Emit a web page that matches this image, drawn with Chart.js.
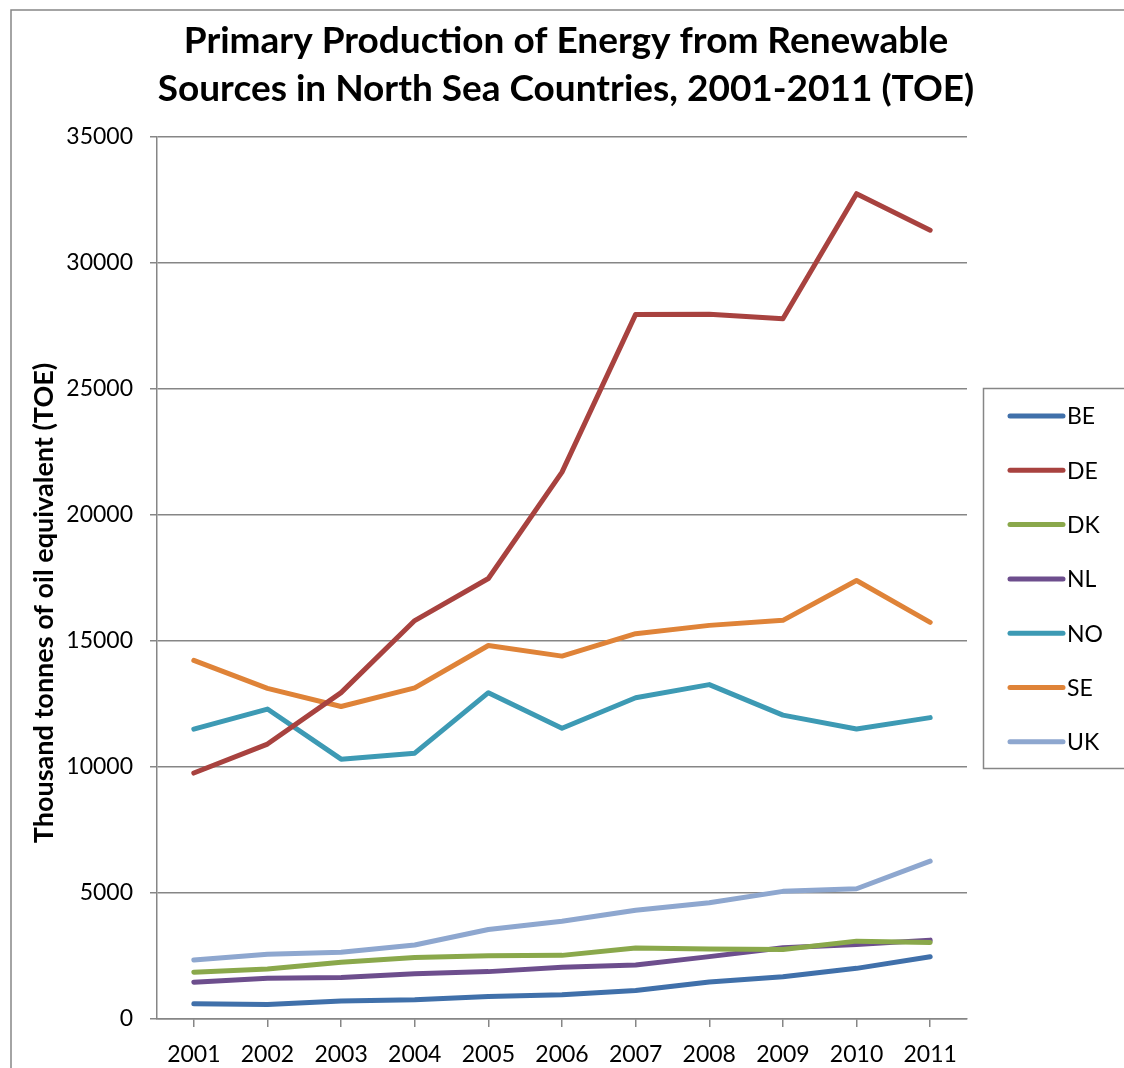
<!DOCTYPE html>
<html>
<head>
<meta charset="utf-8">
<title>Renewable energy, North Sea countries</title>
<script src="https://cdn.jsdelivr.net/npm/chart.js@4/dist/chart.umd.min.js"></script>
<style>
  html, body { margin: 0; padding: 0; background: #fff; }
  #chart { display: block; }
</style>
</head>
<body>
<canvas id="chart" width="1124" height="1068"></canvas>
<script>
// years on the category axis
const years = ['2001', '2002', '2003', '2004', '2005', '2006', '2007', '2008', '2009', '2010', '2011'];

// thousand TOE per country
const beValues = [605, 580, 710, 765, 895, 960, 1130, 1470, 1680, 2010, 2470];
const deValues = [9760, 10910, 12950, 15810, 17480, 21700, 27960, 27970, 27790, 32750, 31300];
const dkValues = [1855, 1985, 2250, 2445, 2510, 2525, 2815, 2775, 2760, 3090, 3040];
const nlValues = [1460, 1615, 1645, 1800, 1880, 2050, 2145, 2475, 2830, 2960, 3130];
const noValues = [11500, 12300, 10310, 10550, 12950, 11540, 12750, 13270, 12060, 11510, 11960];
const seValues = [14230, 13120, 12400, 13140, 14820, 14400, 15290, 15620, 15820, 17400, 15740];
const ukValues = [2340, 2565, 2645, 2935, 3550, 3880, 4315, 4615, 5065, 5170, 6265];

const countries = ['BE', 'DE', 'DK', 'NL', 'NO', 'SE', 'UK'];
const seriesColors = ['#4070AA', '#A8423F', '#8AA84B', '#6D4E8D', '#3D9AB4', '#DF8338', '#8EA7CF'];
const allValues = [beValues, deValues, dkValues, nlValues, noValues, seValues, ukValues];

// y axis range and steps
const yMin = 0;
const yMax = 35000;
const yStep = 5000;

const chartTitle = ['Primary Production of Energy from Renewable', 'Sources in North Sea Countries, 2001-2011 (TOE)'];
const yTitle = 'Thousand tonnes of oil equivalent (TOE)';

const FONT = 'Lato, "Open Sans", "Noto Sans", sans-serif';
const AXIS_GREY = '#868686';

const datasets = countries.map((name, i) => ({
    label: name,
    data: allValues[i],
    borderColor: seriesColors[i],
    backgroundColor: seriesColors[i],
    borderWidth: 5,
    borderCapStyle: 'round',
    borderJoinStyle: 'round',
    pointRadius: 0,
    pointHoverRadius: 0,
    tension: 0,
    fill: false
}));

// frame, title, rotated axis title and boxed legend
const decorations = {
    id: 'decorations',
    afterDraw(chart) {
        const ctx = chart.ctx;
        ctx.save();

        // outer frame (only top and left edges are inside the canvas)
        ctx.strokeStyle = AXIS_GREY;
        ctx.lineWidth = 1.5;
        ctx.beginPath();
        ctx.moveTo(11, 1068);
        ctx.lineTo(11, 10);
        ctx.lineTo(1124, 10);
        ctx.stroke();

        // title
        ctx.fillStyle = '#000';
        ctx.textAlign = 'center';
        ctx.textBaseline = 'middle';
        ctx.font = 'bold 37px ' + FONT;
        ctx.fillText(chartTitle[0], 566, 41);
        ctx.fillText(chartTitle[1], 566, 89);

        // y axis title
        ctx.save();
        ctx.translate(44, 603);
        ctx.rotate(-Math.PI / 2);
        ctx.font = 'bold 27px ' + FONT;
        ctx.fillText(yTitle, 0, 0);
        ctx.restore();

        // legend
        ctx.strokeStyle = AXIS_GREY;
        ctx.lineWidth = 1.5;
        ctx.strokeRect(983.5, 388.5, 300, 380);
        ctx.font = '23px ' + FONT;
        ctx.textAlign = 'left';
        chart.data.datasets.forEach((ds, i) => {
            const y = 416 + i * 54.3;
            ctx.strokeStyle = ds.borderColor;
            ctx.lineWidth = 5;
            ctx.lineCap = 'round';
            ctx.beginPath();
            ctx.moveTo(1010, y);
            ctx.lineTo(1063, y);
            ctx.stroke();
            ctx.fillStyle = '#000';
            ctx.fillText(ds.label, 1067, y + 1);
        });

        ctx.restore();
    }
};

new Chart(document.getElementById('chart'), {
    type: 'line',
    data: { labels: years, datasets: datasets },
    options: {
        responsive: false,
        animation: false,
        devicePixelRatio: 1,
        layout: { padding: { left: 11, right: 157, top: 137, bottom: 0 } },
        plugins: {
            legend: { display: false },
            title: { display: false },
            tooltip: { enabled: false }
        },
        scales: {
            x: {
                offset: true,
                afterFit(scale) { scale.height = 49; },
                grid: {
                    drawOnChartArea: false,
                    drawTicks: true,
                    tickLength: 8,
                    color: AXIS_GREY,
                    lineWidth: 1.5
                },
                border: { color: AXIS_GREY, width: 1.5 },
                ticks: {
                    color: '#000',
                    font: { family: FONT, size: 23 },
                    padding: 14,
                    maxRotation: 0,
                    autoSkip: false
                }
            },
            y: {
                min: yMin,
                max: yMax,
                afterFit(scale) { scale.width = 146; },
                grid: {
                    color: AXIS_GREY,
                    lineWidth: 1.5,
                    tickLength: 7
                },
                border: { color: AXIS_GREY, width: 1.5 },
                ticks: {
                    stepSize: yStep,
                    color: '#000',
                    font: { family: FONT, size: 23 },
                    padding: 17,
                    callback: value => String(value)
                }
            }
        }
    },
    plugins: [decorations]
});
</script>
</body>
</html>
